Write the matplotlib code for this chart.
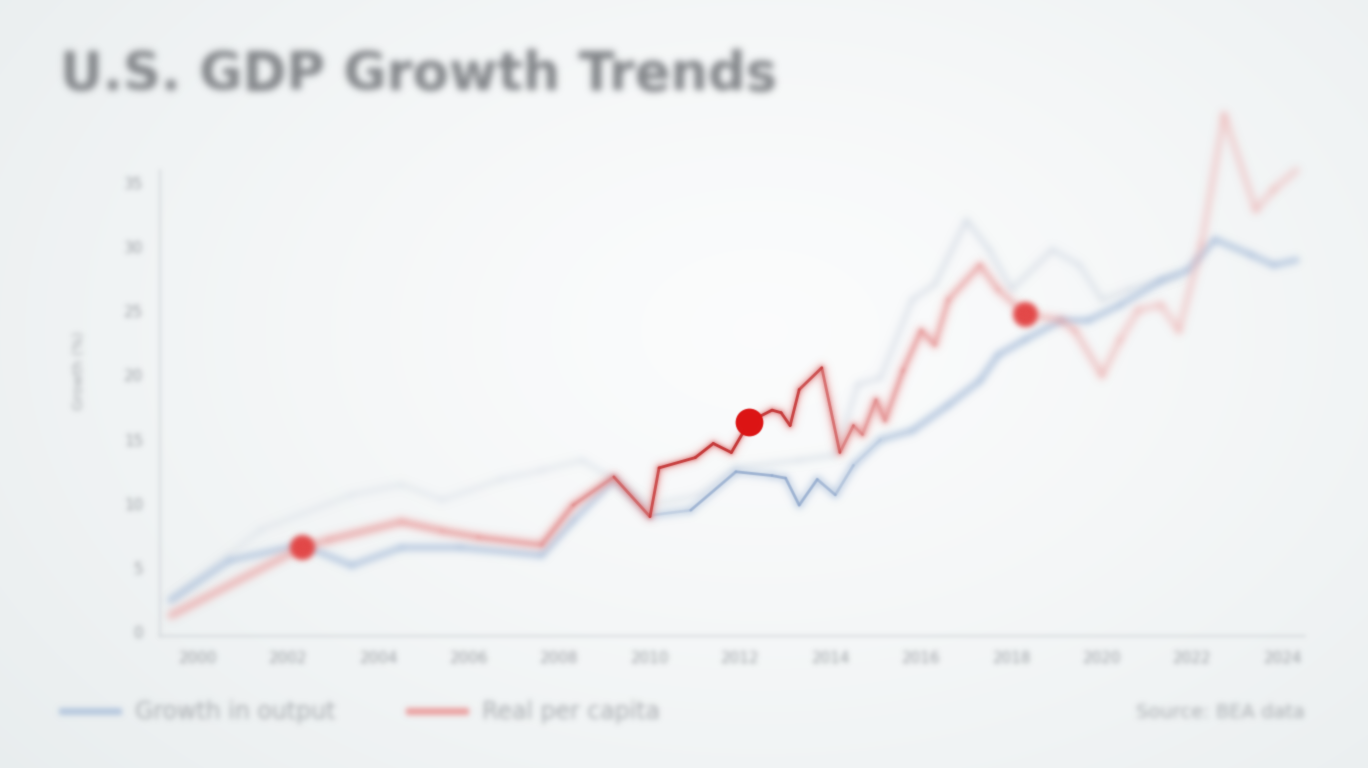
import numpy as np
import matplotlib
matplotlib.use("Agg")
import matplotlib.pyplot as plt
from matplotlib.collections import LineCollection
from matplotlib.lines import Line2D
from matplotlib.colors import to_rgb

# ---------------- data ----------------
title_text = "U.S. GDP Growth Trends"
y_label = "Growth (%)"
x_ticks = [2000, 2002, 2004, 2006, 2008, 2010, 2012, 2014, 2016, 2018, 2020, 2022, 2024]
x_tick_labels = [str(v) for v in x_ticks]
y_ticks = [0, 5, 10, 15, 20, 25, 30, 35]
y_tick_labels = ["0", "5", "10", "15", "20", "25", "30", "35"]
blue_label = "Growth in output"
red_label = "Real per capita"
source_note = "Source: BEA data"

red_years = [1999.4, 2002.3, 2002.9, 2004.5, 2005.4, 2006.2, 2007.6, 2008.3, 2009.2,
             2010.0, 2010.2, 2011.0, 2011.4, 2011.8, 2012.2, 2012.7, 2012.9, 2013.1,
             2013.3, 2013.8, 2014.2, 2014.5, 2014.7, 2015.0, 2015.2, 2015.6, 2016.0,
             2016.3, 2016.6, 2017.3, 2017.7, 2018.3, 2019.1, 2019.4, 2020.0, 2020.4,
             2020.8, 2021.3, 2021.7, 2022.2, 2022.7, 2023.4, 2023.8, 2024.3]
red_values = [1.3, 6.6, 7.2, 8.6, 7.9, 7.4, 6.8, 9.9, 12.1,
              9.0, 12.8, 13.6, 14.7, 14.0, 16.4, 17.3, 17.1, 16.1,
              18.9, 20.6, 14.0, 16.1, 15.4, 18.1, 16.5, 20.4, 23.5,
              22.4, 25.9, 28.6, 26.7, 24.8, 24.3, 23.5, 20.0, 22.8,
              25.1, 25.5, 23.5, 30.2, 40.3, 32.9, 34.5, 36.0]

blue_years = [1999.4, 2000.7, 2002.3, 2003.4, 2004.5, 2005.8, 2007.6, 2008.3, 2009.2,
              2010.0, 2010.9, 2011.9, 2012.7, 2013.0, 2013.3, 2013.7, 2014.1, 2014.5,
              2015.1, 2015.8, 2016.6, 2017.3, 2017.7, 2018.3, 2019.1, 2019.7, 2020.4,
              2021.3, 2021.9, 2022.5, 2023.3, 2023.8, 2024.3]
blue_values = [2.5, 5.6, 6.8, 5.2, 6.6, 6.6, 6.0, 8.7, 11.9,
               9.1, 9.5, 12.5, 12.2, 12.0, 9.9, 11.9, 10.7, 13.0,
               15.0, 15.7, 17.7, 19.6, 21.6, 22.8, 24.3, 24.3, 25.5,
               27.4, 28.2, 30.6, 29.4, 28.6, 29.0]

ghost_years = [1999.4, 2001.4, 2003.4, 2004.5, 2005.4, 2006.7, 2007.6, 2008.5, 2009.2,
               2010.0, 2011.1, 2011.9, 2013.3, 2014.1, 2014.6, 2015.1, 2015.8, 2016.3,
               2017.0, 2017.5, 2018.0, 2018.9, 2019.5, 2020.0, 2020.6, 2021.7]
ghost_values = [2.5, 8.0, 10.7, 11.5, 10.3, 11.9, 12.6, 13.4, 11.9,
                9.9, 10.7, 12.8, 13.4, 13.8, 19.3, 19.8, 25.9, 27.1,
                32.1, 29.8, 26.7, 29.8, 28.6, 25.9, 26.7, 27.8]

highlight_years = [2002.3, 2012.2, 2018.3]
highlight_values = [6.6, 16.4, 24.8]


# ---------------- helpers ----------------
def make_blur(sigma_px):
    def filt(im, dpi):
        s = max(sigma_px * dpi / 100.0, 0.3)
        pad = int(np.ceil(3 * s)) + 1
        ny, nx, d = im.shape
        a = np.zeros((ny + 2 * pad, nx + 2 * pad, d))
        a[pad:-pad, pad:-pad] = im
        al = a[..., 3:4]
        st = np.concatenate([a[..., :3] * al, al], axis=2)
        r = np.arange(-pad, pad + 1)
        k = np.exp(-0.5 * (r / s) ** 2)
        k /= k.sum()
        o1 = np.zeros_like(st)
        for i, w in zip(r, k):
            o1 += w * np.roll(st, i, axis=0)
        o2 = np.zeros_like(st)
        for i, w in zip(r, k):
            o2 += w * np.roll(o1, i, axis=1)
        alpha = o2[..., 3:4]
        rgb = np.where(alpha > 1e-6, o2[..., :3] / np.maximum(alpha, 1e-6), 0.0)
        out = np.clip(np.concatenate([rgb, alpha], axis=2), 0, 1)
        return out, -pad, -pad
    return filt


def segments(xs, ys):
    pts = np.column_stack([xs, ys])
    return np.stack([pts[:-1], pts[1:]], axis=1)


def mids(xs):
    xs = np.asarray(xs, float)
    return 0.5 * (xs[:-1] + xs[1:])


def add_layer(ax, xs, ys, color, alphas, lw, sigma, z):
    rgb = np.array(to_rgb(color))
    cols = np.column_stack([np.tile(rgb, (len(alphas), 1)), np.clip(alphas, 0, 1)])
    lc = LineCollection(segments(xs, ys), colors=cols, linewidths=lw,
                        capstyle="round", joinstyle="round", zorder=z)
    lc.set_clip_on(False)
    if sigma:
        lc.set_agg_filter(make_blur(sigma))
    ax.add_collection(lc)
    return lc


W, H = 1368, 768
fig = plt.figure(figsize=(W / 100, H / 100), dpi=100)

# background with soft radial light
bg = fig.add_axes([0, 0, 1, 1], zorder=-10)
yy, xx = np.mgrid[0:H, 0:W]
d = np.sqrt(((xx - 760) / 760.0) ** 2 + ((yy - 330) / 520.0) ** 2)
t = np.clip(d, 0, 1.4) / 1.4
c_in = np.array([0.985, 0.988, 0.990])
c_out = np.array([0.905, 0.925, 0.930])
img = c_in[None, None, :] * (1 - t[..., None] ** 1.3) + c_out[None, None, :] * (t[..., None] ** 1.3)
bg.imshow(img, extent=[0, 1, 0, 1], aspect="auto", origin="upper")
bg.axis("off")

# main axes
ax = fig.add_axes([160 / W, 1 - 636 / H, (1305 - 160) / W, (636 - 106) / H])
ax.set_facecolor("none")
ax.set_xlim(1999.16, 2024.49)
ax.set_ylim(-0.3, 41.0)

for sp in ["top", "right"]:
    ax.spines[sp].set_visible(False)
for sp in ["left", "bottom"]:
    ax.spines[sp].set_color("#cfd4d8")
    ax.spines[sp].set_linewidth(1.2)
    ax.spines[sp].set_agg_filter(make_blur(1.5))
ax.spines["left"].set_bounds(-0.3, 36.0)

ax.set_xticks(x_ticks)
ax.set_xticklabels(x_tick_labels)
ax.set_yticks(y_ticks)
ax.set_yticklabels(y_tick_labels)
ax.tick_params(axis="both", length=0, colors="#979ba0", labelsize=11)
ax.tick_params(axis="x", pad=11)
ax.tick_params(axis="y", pad=12)
ax.set_ylabel(y_label, color="#a3a7ab", fontsize=10, labelpad=28)
ax.xaxis.set_agg_filter(make_blur(2.6))
ax.yaxis.set_agg_filter(make_blur(2.6))

# depth-of-field profiles (style only)
def sharp_profile(x, c=2012.0, w=2.3):
    return np.exp(-((np.asarray(x) - c) / w) ** 4)

# ghost line
gm = mids(ghost_years)
add_layer(ax, ghost_years, ghost_values, "#cdd5e0",
          np.interp(gm, [1999, 2008, 2014, 2017, 2022], [0.4, 0.45, 0.6, 0.7, 0.55]),
          3.5, 3.8, 2)

# blue line
bm = mids(blue_years)
add_layer(ax, blue_years, blue_values, "#aec2dc",
          np.interp(bm, [1999, 2008, 2012, 2016, 2024], [0.75, 0.8, 0.55, 0.85, 0.75]),
          5.0, 3.5, 3)
add_layer(ax, blue_years, blue_values, "#95acce", sharp_profile(bm, 2012.5, 2.0) * 0.85,
          2.0, 0.6, 4)

# red line
rm = mids(red_years)
add_layer(ax, red_years, red_values, "#eb9b9b",
          np.interp(rm, [1999, 2004, 2008, 2012, 2015, 2018, 2021, 2025],
                    [0.7, 0.85, 0.85, 0.5, 0.8, 0.6, 0.42, 0.38]),
          5.0, 4.0, 5)
add_layer(ax, red_years, red_values, "#dd7676",
          np.exp(-((rm - 2011.5) / 4.0) ** 2) * 0.8, 3.0, 1.8, 6)
add_layer(ax, red_years, red_values, "#c63c3c", sharp_profile(rm, 2011.8, 2.4),
          2.0, 0.5, 7)

# highlighted points
m_blur, = ax.plot([highlight_years[0], highlight_years[2]],
                  [highlight_values[0], highlight_values[2]],
                  "o", color="#e34848", ms=18, mew=0, zorder=8, clip_on=False)
m_blur.set_agg_filter(make_blur(2.8))
m_sharp, = ax.plot([highlight_years[1]], [highlight_values[1]], "o",
                   color="#dc1414", ms=20, mew=0, zorder=9, clip_on=False)
m_sharp.set_agg_filter(make_blur(0.6))

# title
tt = fig.text(60 / W, 1 - 75 / H, title_text, fontsize=38, fontweight="bold",
              color="#808387", ha="left", va="center")
tt.set_agg_filter(make_blur(3.6))

# legend (proxy handles share the series colours)
h_blue = Line2D([], [], color="#b4c6de", lw=5)
h_red = Line2D([], [], color="#eb9b9b", lw=5)
leg = fig.legend(handles=[h_blue, h_red], labels=[blue_label, red_label],
                 loc="center left", bbox_to_anchor=(62 / W, 1 - 712 / H),
                 ncol=2, frameon=False, fontsize=17, handlelength=2.37,
                 columnspacing=3.1, handletextpad=0.72, borderpad=0,
                 borderaxespad=0, labelcolor="#a6aaae")
leg.set_agg_filter(make_blur(2.8))

src = fig.text(1305 / W, 1 - 712 / H, source_note, fontsize=14, color="#a6aaae",
               ha="right", va="center")
src.set_agg_filter(make_blur(2.8))

fig.savefig("out.png", dpi=100)
